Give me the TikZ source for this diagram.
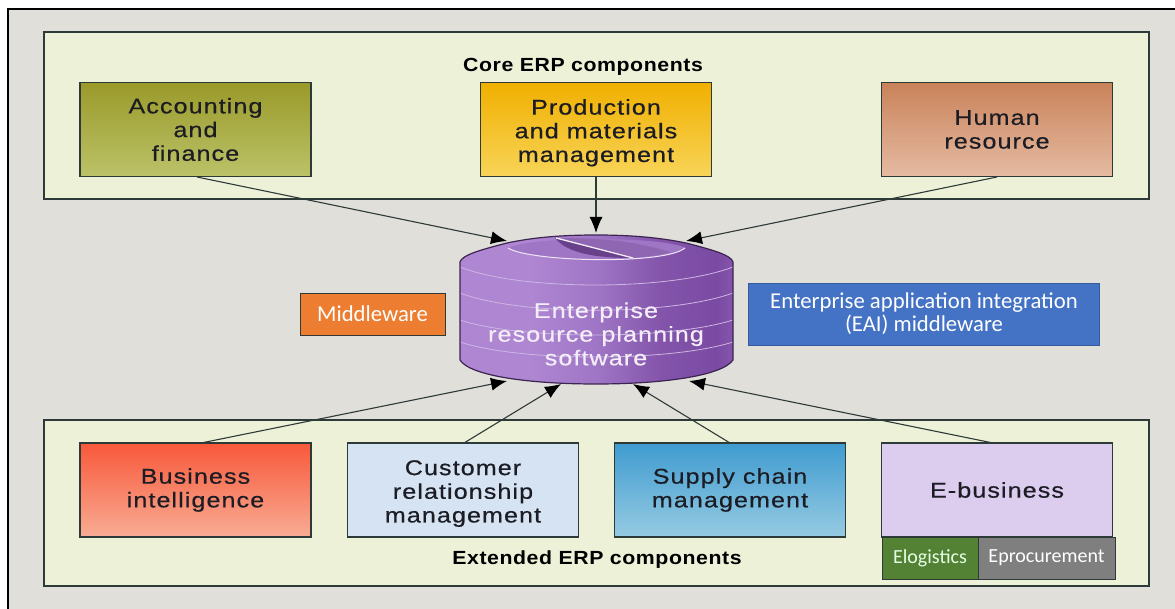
\documentclass[tikz,border=0pt]{standalone}
\usepackage{fontspec}
\setmainfont{Liberation Sans}
\newfontfamily\widefont[FakeStretch=1.18,LetterSpace=5,FakeBold=0.5]{Liberation Sans}
\newfontfamily\boldwide[FakeStretch=1.12,LetterSpace=3]{Liberation Sans Bold}
\newfontfamily\officefont{Carlito}
\usetikzlibrary{arrows.meta,shapes.geometric}
\definecolor{pagebg}{HTML}{E0DFD9}
\definecolor{panelbg}{HTML}{EDF1D8}
\definecolor{edgeC}{HTML}{2E3A38}
\definecolor{textC}{HTML}{1C1C24}
\definecolor{purpA}{HTML}{7B4BA3}
\definecolor{purpB}{HTML}{AE86D2}
\definecolor{purpC}{HTML}{9F75C5}
\definecolor{acctop}{HTML}{9A9A2A}\definecolor{accbot}{HTML}{BBC268}
\definecolor{prodtop}{HTML}{F0B000}\definecolor{prodbot}{HTML}{F8D458}
\definecolor{hrtop}{HTML}{C9825A}\definecolor{hrbot}{HTML}{E5BBA2}
\definecolor{bitop}{HTML}{F8583A}\definecolor{bibot}{HTML}{F8AC94}
\definecolor{crmfill}{HTML}{D5E3F2}
\definecolor{scmtop}{HTML}{3F9BD0}\definecolor{scmbot}{HTML}{96CBE2}
\definecolor{ebfill}{HTML}{DCCCEE}
\definecolor{midfill}{HTML}{ED7D31}
\definecolor{eaifill}{HTML}{4472C4}
\definecolor{elogfill}{HTML}{548235}
\definecolor{eprocfill}{HTML}{7F7F7F}
\pgfdeclarehorizontalshading{cylshade}{100bp}{
 color(0bp)=(purpA!85!white);
 color(25bp)=(purpB);
 color(38bp)=(purpB);
 color(50bp)=(purpC);
 color(62bp)=(purpA!85!purpB);
 color(72bp)=(purpA);
 color(85bp)=(purpC);
 color(100bp)=(purpA)}
\tikzset{
 x=1pt,y=-1pt,
 panel/.style={draw=edgeC,line width=1.2pt,fill=panelbg},
 compbox/.style={draw=edgeC,line width=1.1pt,minimum width=231pt,minimum height=94pt,inner sep=0pt,align=center,text=textC,font=\widefont\fontsize{21.3}{23.7}\selectfont},
 smallbox/.style={draw=edgeC,line width=0.8pt,inner sep=0pt,align=center,text=white,font=\officefont\fontsize{22.7}{23}\selectfont},
 subbox/.style={draw=edgeC,line width=0.9pt,minimum height=42pt,inner sep=0pt,font=\officefont\fontsize{20}{22}\selectfont},
 ring/.style={draw=purpB!60!white,line width=.8pt},
 conn/.style={draw=edgeC,line width=1.1pt,-{Latex[length=16pt,width=13pt,black]}},
 ptitle/.style={text=black,inner sep=0pt,font=\boldwide\fontsize{19}{22}\selectfont}
}
\begin{document}
\begin{tikzpicture}
\useasboundingbox (0,0) rectangle (1175,609);
\fill[white] (0,0) rectangle (1175,609);
\fill[pagebg] (8,9) rectangle (1175,609);
\draw[black,line width=1.4pt] (1175,9) -- (8,9) -- (8,609);
% panels
\draw[panel] (44,32) rectangle (1149,199);
\draw[panel] (44,420) rectangle (1149,586);
\node[ptitle] (coretitle) at (583,67) {Core ERP components};
\node[ptitle] (exttitle) at (597,560) {Extended ERP components};
% core boxes
\node[compbox,top color=acctop,bottom color=accbot] (acc) at (195.5,129.5) {Accounting\\and\\finance};
\node[compbox,top color=prodtop,bottom color=prodbot] (prod) at (596,129.5) {\rule{0pt}{22pt}Production\\and materials\\management};
\node[compbox,top color=hrtop,bottom color=hrbot] (hr) at (997,129.5) {Human\\resource};
% extended boxes
\node[compbox,top color=bitop,bottom color=bibot] (bi) at (195.5,490) {Business\\intelligence};
\node[compbox,fill=crmfill] (crm) at (463,490) {\rule{0pt}{22pt}Customer\\relationship\\management};
\node[compbox,top color=scmtop,bottom color=scmbot] (scm) at (730,490) {Supply chain\\management};
\node[compbox,fill=ebfill] (eb) at (997,490) {E-business};
\node[subbox,fill=elogfill,minimum width=96pt,text=white!90!green] (elog) at (930,558) {Elogistics};
\node[subbox,fill=eprocfill,minimum width=137pt,text=white] (eproc) at (1046.5,558) {Eprocurement};
% cylinder body
\path[shading=cylshade]
 (460,262) .. controls (462,255) and (480,250) .. (507,243) .. controls (535,237) and (565,235) .. (596,235) .. controls (627,235) and (657,237) .. (686,243) .. controls (713,250) and (731,255) .. (733,262) -- (733,360) .. controls (722,376) and (662,384) .. (596,384) .. controls (530,384) and (470,376) .. (460,360) -- cycle;
\draw[ring] (460,267) .. controls (520,291) and (670,291) .. (733,267);
\draw[ring] (460,293) .. controls (520,316) and (670,316) .. (733,293);
\draw[ring] (460,320) .. controls (520,340) and (670,340) .. (733,320);
\draw[ring] (460,342) .. controls (520,362) and (670,362) .. (733,342);
% top ellipse and wedge
\fill[purpC] (508,248) .. controls (530,262) and (665,265) .. (685,248) .. controls (665,236) and (530,236) .. (508,248) -- cycle;
\fill[purpA!85!black] (555,238) .. controls (565,250) and (585,258) .. (633,258) -- cycle;
\fill[purpA!85!white] (560,238) -- (633,258) .. controls (655,256) and (665,254) .. (670,252) .. controls (640,243) and (610,238) .. (560,238) -- cycle;
\draw[white!80!purpB,line width=1pt] (508,248) .. controls (530,262) and (665,265) .. (685,248);
\draw[white!85!purpB,line width=1.3pt] (556,238) -- (633,258);
\draw[draw=purpA!50!black,line width=1.2pt]
 (460,262) .. controls (462,255) and (480,250) .. (507,243) .. controls (535,237) and (565,235) .. (596,235) .. controls (627,235) and (657,237) .. (686,243) .. controls (713,250) and (731,255) .. (733,262) -- (733,360) .. controls (722,376) and (662,384) .. (596,384) .. controls (530,384) and (470,376) .. (460,360) -- cycle;
\node[inner sep=0pt,align=center,text=white!85!purpB,font=\widefont\fontsize{21.3}{23.7}\selectfont] (erp) at (596,334) {Enterprise\\resource planning\\software};
\coordinate (cTL) at (507,241);
\coordinate (cT) at (596,233);
\coordinate (cTR) at (686,241);
\coordinate (cBL) at (507,381);
\coordinate (cBM) at (561,384);
\coordinate (cBMR) at (633,384);
\coordinate (cBR) at (689,381);
% side boxes
\node[smallbox,fill=midfill,minimum width=145pt,minimum height=42pt] (mid) at (372.5,314) {Middleware};
\node[smallbox,draw=eaifill!80!black,fill=eaifill,minimum width=351pt,minimum height=62pt] (eai) at (924,314) {Enterprise application integration\\(EAI) middleware};
% connectors
\coordinate (aS) at (197,177);
\coordinate (pS) at (596,177);
\coordinate (hS) at (997,177);
\coordinate (bN) at (201,443);
\coordinate (cN) at (464,443);
\coordinate (sN) at (730,443);
\coordinate (eN) at (993,443);
\draw[conn] (aS) -- (cTL);
\draw[conn] (pS) -- (cT);
\draw[conn] (hS) -- (cTR);
\draw[conn] (bN) -- (cBL);
\draw[conn] (cN) -- (cBM);
\draw[conn] (sN) -- (cBMR);
\draw[conn] (eN) -- (cBR);
\end{tikzpicture}
\end{document}
